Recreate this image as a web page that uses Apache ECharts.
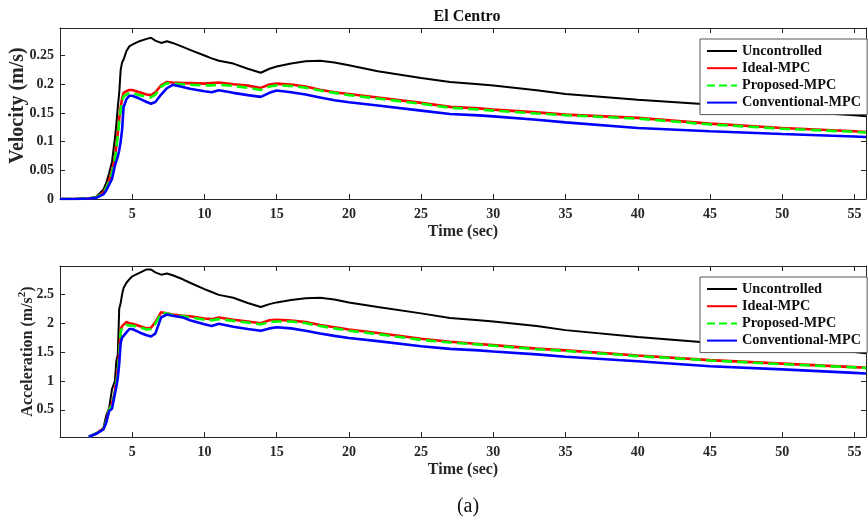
<!DOCTYPE html>
<html>
<head>
<meta charset="utf-8">
<script src="https://cdn.jsdelivr.net/npm/echarts@6/dist/echarts.min.js"></script>
<style>html,body{margin:0;padding:0;background:#fff}#c{width:868px;height:519px}</style>
</head>
<body>
<div id="c"></div>
<script>
// Time samples (sec)
const T = [0,1,2,2.5,3,3.2,3.4,3.6,3.8,3.9,4.0,4.1,4.2,4.3,4.4,4.6,4.8,5,5.5,6,6.3,6.6,7,7.4,7.8,8.5,9,10,10.5,11,12,13,13.9,14.5,15,16,17,18,19,20,22,25,27,29,30,33,35,40,45,50,55,55.8];

// Velocity (m/s)
const velUncontrolled = [0,0,0.001,0.004,0.016, 0.028,0.045,0.065,0.105,0.13, 0.16,0.185,0.225,0.238,0.243, 0.258,0.266,0.269,0.275,0.279, 0.281,0.276,0.272,0.275,0.272, 0.265,0.26,0.25,0.245,0.241, 0.236,0.227,0.22,0.227,0.231, 0.236,0.24,0.241,0.238,0.233, 0.2226,0.211,0.204,0.2,0.1976, 0.1895,0.183,0.173,0.1645,0.154, 0.146,0.144];
const velIdeal = [0,0,0.001,0.003,0.011, 0.02,0.032,0.048,0.072,0.092, 0.115,0.14,0.16,0.175,0.185, 0.188,0.19,0.19,0.186,0.182, 0.181,0.186,0.198,0.204,0.203, 0.202,0.202,0.201,0.202,0.203, 0.2,0.1976,0.1936,0.1994,0.201, 0.1994,0.196,0.1905,0.186,0.183, 0.177,0.1675,0.1605,0.158,0.1558, 0.151,0.147,0.1413,0.1313,0.1238, 0.118,0.1165];
const velProposed = [0,0,0.001,0.003,0.01, 0.019,0.03,0.045,0.068,0.088, 0.11,0.135,0.155,0.17,0.179, 0.182,0.185,0.185,0.181,0.178, 0.177,0.182,0.196,0.202,0.201, 0.2,0.199,0.198,0.198,0.199, 0.197,0.194,0.19,0.196,0.198, 0.197,0.194,0.189,0.185,0.181, 0.175,0.166,0.159,0.156,0.154, 0.149,0.146,0.14,0.13,0.1225, 0.117,0.1158];
const velConventional = [0,0,0.001,0.002,0.008, 0.015,0.025,0.035,0.058,0.066, 0.074,0.085,0.1,0.121,0.16, 0.174,0.18,0.18,0.175,0.169, 0.166,0.169,0.182,0.193,0.199, 0.195,0.192,0.1877,0.186,0.1895, 0.185,0.181,0.178,0.185,0.189, 0.186,0.182,0.177,0.172,0.1685, 0.163,0.154,0.148,0.1458,0.144, 0.138,0.1336,0.1238,0.118,0.1133, 0.109,0.108];

// Acceleration (m/s^2)
const accUncontrolled = [null,null,0.035,0.09,0.18, 0.4,0.53,0.86,1.0,1.35, 1.45,2.25,2.35,2.5,2.61, 2.7,2.76,2.81,2.87,2.93, 2.93,2.88,2.84,2.86,2.83, 2.76,2.7,2.59,2.54,2.49, 2.44,2.35,2.28,2.33,2.36, 2.4,2.43,2.44,2.41,2.36, 2.28,2.17,2.09,2.05,2.03, 1.95,1.88,1.76,1.66,1.57, 1.5,1.48];
const accIdeal = [null,null,0.035,0.09,0.17, 0.3,0.5,0.6,0.82,1.0, 1.15,1.5,1.89,1.95,1.97, 2.02,2.0,1.99,1.95,1.91, 1.92,2.02,2.19,2.17,2.15, 2.13,2.12,2.08,2.07,2.1, 2.06,2.03,2.0,2.05,2.06, 2.045,2.02,1.97,1.93,1.89, 1.83,1.73,1.68,1.64,1.62, 1.56,1.53,1.44,1.36,1.3, 1.24,1.23];
const accProposed = [null,null,0.035,0.09,0.17, 0.3,0.5,0.58,0.8,0.98, 1.12,1.45,1.85,1.92,1.95, 1.97,1.96,1.96,1.93,1.89, 1.9,1.99,2.17,2.17,2.14, 2.12,2.1,2.06,2.05,2.07, 2.04,2.01,1.98,2.02,2.03, 2.03,2.0,1.95,1.91,1.87, 1.81,1.71,1.665,1.63,1.61, 1.55,1.52,1.43,1.355,1.29, 1.235,1.225];
const accConventional = [null,null,0.035,0.085,0.16, 0.28,0.48,0.52,0.78,0.9, 1.05,1.3,1.66,1.75,1.78, 1.84,1.9,1.9,1.84,1.79, 1.77,1.82,2.1,2.15,2.13, 2.1,2.05,1.98,1.95,1.99, 1.94,1.9,1.87,1.91,1.93, 1.91,1.87,1.82,1.78,1.745, 1.69,1.6,1.555,1.53,1.51, 1.46,1.42,1.34,1.255,1.2, 1.14,1.13];

// Tick labels
const xTicks = [5,10,15,20,25,30,35,40,45,50,55];
const velTicks = [0,0.05,0.1,0.15,0.2,0.25];
const accTicks = [0.5,1,1.5,2,2.5];

const names = ['Uncontrolled','Ideal-MPC','Proposed-MPC','Conventional-MPC'];
const colors = ['#000000','#ff0000','#00ff00','#0000ff'];
const widths = [2,2.6,2.6,2.6];
const types = ['solid','solid','dashed','solid'];

const FONT = 'Liberation Serif';
const AX = '#262626';

function pairs(vals){ return T.map((t,i)=>[t, vals[i]]); }

function xAx(gi, pos, showName){
  return {
    type:'value', gridIndex:gi, position:pos, min:0, max:55.8,
    name: showName ? 'Time (sec)' : '', nameLocation:'middle', nameGap:25, nameMoveOverlap:false,
    nameTextStyle:{fontFamily:FONT, fontWeight:'bold', fontSize:16, color:'#262626'},
    axisLine:{show:true, onZero:false, lineStyle:{color:AX, width:1}},
    axisTick:{show:true, inside:true, length:5, customValues:xTicks, lineStyle:{color:AX}},
    axisLabel:{show:pos==='bottom', customValues:xTicks, margin:8, fontFamily:FONT, fontWeight:'bold', fontSize:14, color:'#262626'},
    splitLine:{show:false}
  };
}
function yAx(gi, pos, min, max, ticks, name, gap, nameSize, namePad){
  return {
    type:'value', gridIndex:gi, position:pos, min:min, max:max,
    name: name, nameLocation:'middle', nameGap:gap, nameMoveOverlap:false,
    nameTextStyle:{fontFamily:FONT, fontWeight:'bold', fontSize:nameSize, color:'#262626', padding:namePad,
      rich:{sup:{fontFamily:FONT, fontWeight:'bold', fontSize:11, color:'#262626', padding:[0,0,10,0]}}},
    axisLine:{show:true, onZero:false, lineStyle:{color:AX, width:1}},
    axisTick:{show:true, inside:true, length:5, customValues:ticks, lineStyle:{color:AX}},
    axisLabel:{show:pos==='left', customValues:ticks, margin:6, fontFamily:FONT, fontWeight:'bold', fontSize:14, color:'#262626'},
    splitLine:{show:false}
  };
}
function ser(k, vals, gi){
  return {
    name:names[k], type:'line', xAxisIndex:gi*2, yAxisIndex:gi*2,
    data:pairs(vals), symbol:'none', showSymbol:false, clip:true, animation:false,
    lineStyle:{color:colors[k], width:widths[k], type:types[k]},
    itemStyle:{color:colors[k]}
  };
}
function leg(top){
  return {
    orient:'vertical', left:700, top:top, padding:[5,6,5,6], itemGap:3.2,
    itemWidth:30, itemHeight:14, backgroundColor:'#ffffff', borderColor:'#555555', borderWidth:1,
    itemStyle:{opacity:0},
    textStyle:{fontFamily:FONT, fontWeight:'bold', fontSize:14.3, color:'#111'},
    data:names, selectedMode:false
  };
}

const chart = echarts.init(document.getElementById('c'), null, {renderer:'canvas'});
chart.setOption({
  animation:false,
  backgroundColor:'#ffffff',
  grid:[
    {left:60, top:28, right:2, height:171, containLabel:false, outerBoundsMode:'none'},
    {left:60, top:266, right:2, height:171, containLabel:false, outerBoundsMode:'none'}
  ],
  xAxis:[xAx(0,'bottom',true), xAx(0,'top',false), xAx(1,'bottom',true), xAx(1,'top',false)],
  yAxis:[
    yAx(0,'left',0,0.298,velTicks,'Velocity (m/s)',32,20,[0,0,0,16]),
    yAx(0,'right',0,0.298,velTicks,'',0,16,0),
    yAx(1,'left',0.03,2.99,accTicks,'Acceleration (m/s{sup|2})',22,16,0),
    yAx(1,'right',0.03,2.99,accTicks,'',0,16,0)
  ],
  legend:[leg(39), leg(277)],
  series:[
    ser(0,velUncontrolled,0), ser(1,velIdeal,0), ser(2,velProposed,0), ser(3,velConventional,0),
    ser(0,accUncontrolled,1), ser(1,accIdeal,1), ser(2,accProposed,1), ser(3,accConventional,1)
  ],
  graphic:[
    {type:'text', x:467, y:17, style:{text:'El Centro', fontFamily:FONT, fontWeight:'bold', fontSize:16, fill:'#111', textAlign:'center', textVerticalAlign:'middle'}},
    {type:'text', x:468, y:507, style:{text:'(a)', fontFamily:FONT, fontSize:20, fill:'#111', textAlign:'center', textVerticalAlign:'middle'}}
  ]
});
</script>
</body>
</html>
